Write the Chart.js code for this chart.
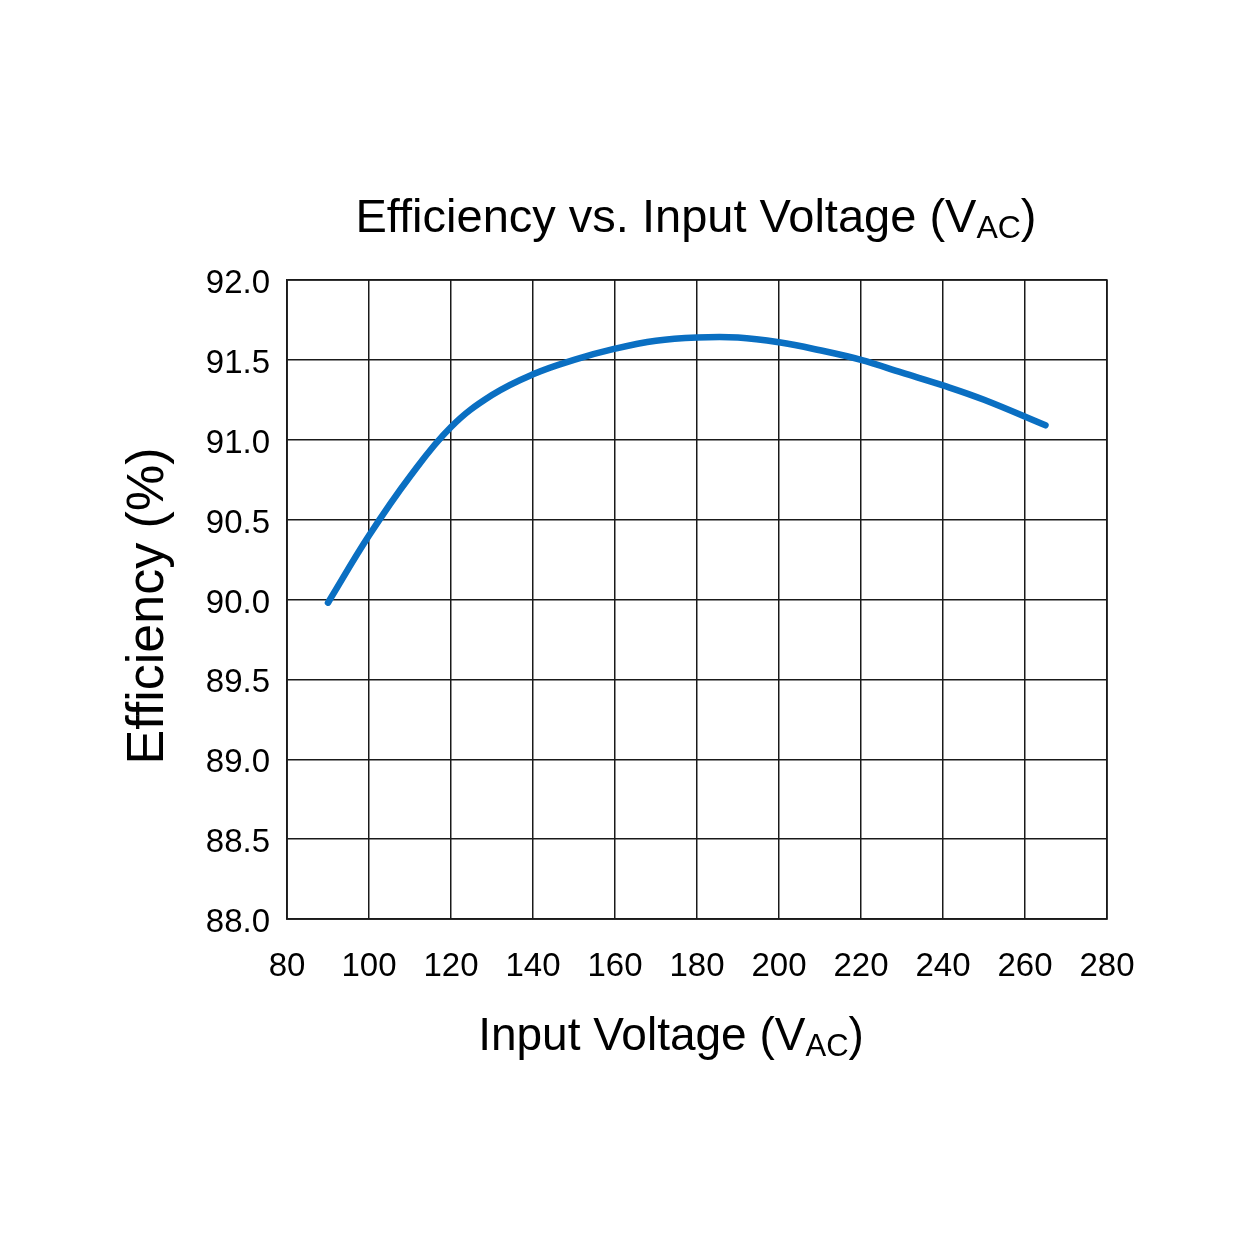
<!DOCTYPE html>
<html>
<head>
<meta charset="utf-8">
<script src="https://cdn.jsdelivr.net/npm/chart.js@4.4.1/dist/chart.umd.min.js"></script>
<style>
  html, body { margin: 0; padding: 0; background: #fff; }
  #wrap { width: 1247px; height: 1247px; }
</style>
</head>
<body>
<div id="wrap"><canvas id="effChart" width="1247" height="1247"></canvas></div>
<script>
// input voltage (VAC) and efficiency (%)
const voltage = [90, 100, 110, 120, 130, 140, 150, 160, 170, 180, 190, 200, 210, 220, 230, 240, 250, 265];
const efficiency = [89.98, 90.40, 90.77, 91.08, 91.28, 91.41, 91.50, 91.57, 91.62, 91.64, 91.64, 91.61, 91.56, 91.50, 91.42, 91.34, 91.25, 91.09];
const xTicks = [80, 100, 120, 140, 160, 180, 200, 220, 240, 260, 280];
const yTicks = [88.0, 88.5, 89.0, 89.5, 90.0, 90.5, 91.0, 91.5, 92.0];

const FONT = "'Liberation Sans', Arial, sans-serif";

// draw text with a subscript part, e.g. V + AC
function drawWithSub(ctx, parts, cx, y, size, subSize) {
  ctx.textBaseline = 'alphabetic';
  ctx.textAlign = 'left';
  let total = 0;
  parts.forEach(p => {
    ctx.font = (p.sub ? subSize : size) + 'px ' + FONT;
    p.w = ctx.measureText(p.text).width;
    total += p.w;
  });
  let x = cx - total / 2;
  parts.forEach(p => {
    ctx.font = (p.sub ? subSize : size) + 'px ' + FONT;
    ctx.fillText(p.text, x, p.sub ? y + 6 : y);
    x += p.w;
  });
}

const labelsPlugin = {
  id: 'labels',
  afterDraw(chart) {
    const ctx = chart.ctx;
    ctx.save();
    ctx.fillStyle = '#000';
    drawWithSub(ctx, [
      { text: 'Efficiency vs. Input Voltage (V' },
      { text: 'AC', sub: true },
      { text: ')' }
    ], 696, 232, 47, 32);
    drawWithSub(ctx, [
      { text: 'Input Voltage (V' },
      { text: 'AC', sub: true },
      { text: ')' }
    ], 671, 1050, 46, 31);
    // y axis title
    ctx.translate(163, 606);
    ctx.rotate(-Math.PI / 2);
    ctx.font = '52px ' + FONT;
    ctx.textAlign = 'center';
    ctx.textBaseline = 'alphabetic';
    ctx.fillText('Efficiency (%)', 0, 0);
    ctx.restore();
  }
};

const ctx = document.getElementById('effChart').getContext('2d');
new Chart(ctx, {
  type: 'line',
  data: {
    datasets: [{
      data: voltage.map((v, i) => ({ x: v, y: efficiency[i] })),
      borderColor: '#0A6FC2',
      borderWidth: 6.5,
      borderCapStyle: 'round',
      borderJoinStyle: 'round',
      pointRadius: 0,
      fill: false,
      tension: 0.4
    }]
  },
  options: {
    responsive: false,
    animation: false,
    layout: { padding: { left: 0, right: 140, top: 280, bottom: 228 } },
    plugins: {
      legend: { display: false },
      title: { display: false },
      tooltip: { enabled: false }
    },
    scales: {
      x: {
        type: 'linear',
        min: 80,
        max: 280,
        afterFit: s => { s.height = 100; },
        afterBuildTicks: s => { s.ticks = xTicks.map(v => ({ value: v })); },
        grid: { color: '#1a1a1a', lineWidth: 1.5, drawTicks: false },
        border: { color: '#1a1a1a', width: 1.5 },
        ticks: {
          color: '#000',
          padding: 28,
          maxRotation: 0,
          autoSkip: false,
          font: { family: FONT, size: 33 }
        }
      },
      y: {
        min: 88,
        max: 92,
        afterFit: s => { s.width = 287; },
        afterBuildTicks: s => { s.ticks = yTicks.map(v => ({ value: v })); },
        grid: { color: '#1a1a1a', lineWidth: 1.5, drawTicks: false },
        border: { color: '#1a1a1a', width: 1.5 },
        ticks: {
          color: '#000',
          padding: 17,
          labelOffset: 4,
          autoSkip: false,
          font: { family: FONT, size: 33 },
          callback: v => Number(v).toFixed(1)
        }
      }
    }
  },
  plugins: [labelsPlugin, {
    id: 'frame',
    afterDraw(chart) {
      const a = chart.chartArea, c = chart.ctx;
      c.save();
      c.strokeStyle = '#1a1a1a';
      c.lineWidth = 1.5;
      c.strokeRect(a.left, a.top, a.right - a.left, a.bottom - a.top);
      c.restore();
    }
  }]
});
</script>
</body>
</html>
